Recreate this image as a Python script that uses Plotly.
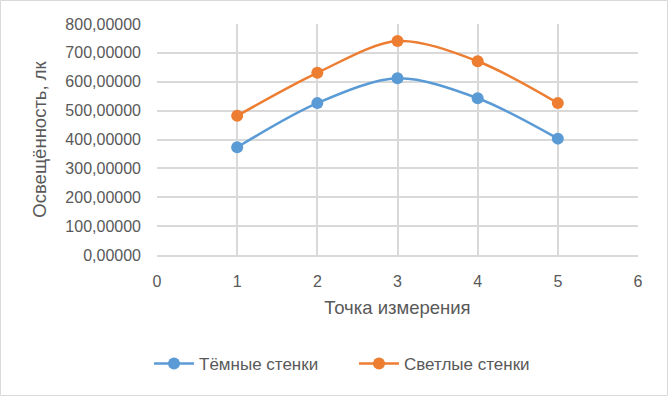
import plotly.graph_objects as go

points = [1, 2, 3, 4, 5]
dark_walls = [373, 526, 612, 543, 403]
light_walls = [482, 631, 741, 671, 526]
series_names = ["Тёмные стенки", "Светлые стенки"]
x_title = "Точка измерения"
y_title = "Освещённость, лк"

W, H = 668, 396
L, R, T, B = 157, 30, 24, 141
pw, ph = W - L - R, H - T - B

font = "Liberation Sans"
txt = "#595959"
grid = "#d9d9d9"

fig = go.Figure()
for name, vals, col in [(series_names[0], dark_walls, "#5b9bd5"),
                        (series_names[1], light_walls, "#ed7d31")]:
    fig.add_trace(go.Scatter(
        x=points, y=vals, name=name, mode="lines+markers",
        line=dict(color=col, width=2.5, shape="spline", smoothing=0.9),
        marker=dict(color=col, size=12),
    ))

fig.update_layout(
    width=W, height=H,
    margin=dict(l=L, r=R, t=T, b=B),
    paper_bgcolor="white", plot_bgcolor="white",
    separators=", ",
    font=dict(family=font, size=16, color=txt),
    showlegend=True,
    legend=dict(orientation="h", x=(354 - L) / pw, xanchor="center",
                y=(T + ph - 364) / ph, yanchor="middle",
                font=dict(size=17, color=txt),
                itemwidth=40, entrywidth=150, entrywidthmode="pixels",
                tracegroupgap=0),
    xaxis=dict(range=[0, 6], dtick=1, tick0=0, showgrid=True, gridcolor=grid,
               gridwidth=1.5, zeroline=False, showline=True, linecolor=grid,
               linewidth=1.5, ticks="", ticklabelstandoff=11,
               title=dict(text=x_title, font=dict(size=18.5, color=txt), standoff=12),
               tickfont=dict(size=16, color=txt)),
    yaxis=dict(range=[0, 800], dtick=100, tickformat=".5f", showgrid=True,
               gridcolor=grid, gridwidth=1.5, zeroline=False, showline=False,
               ticks="", ticklabelstandoff=15,
               title=dict(text=y_title, font=dict(size=18.5, color=txt), standoff=13),
               tickfont=dict(size=16, color=txt)),
    shapes=[dict(type="rect", xref="paper", yref="paper",
                 x0=(0.5 - L) / pw, x1=(W - 0.5 - L) / pw,
                 y0=(T + ph - (H - 0.5)) / ph, y1=(T + ph - 0.5) / ph,
                 line=dict(color="#d9d9d9", width=1), fillcolor="rgba(0,0,0,0)",
                 layer="below")],
)

fig.write_html("out.html", config={"displayModeBar": False},
               post_script="document.body.style.margin='0';document.body.style.overflow='hidden';")
